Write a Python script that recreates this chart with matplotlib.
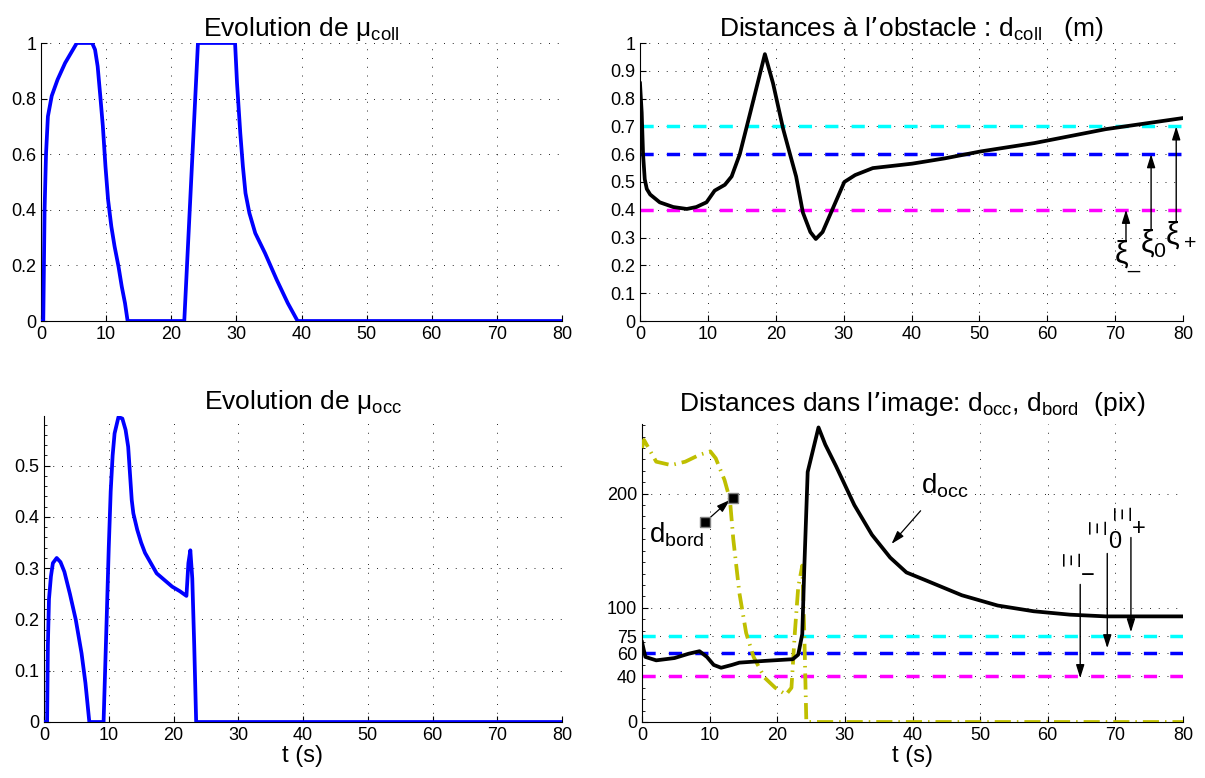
import numpy as np
import matplotlib
matplotlib.use("Agg")
import matplotlib.pyplot as plt
from matplotlib.ticker import MultipleLocator

plt.rcParams['font.family'] = ['Liberation Sans', 'DejaVu Sans']
plt.rcParams['mathtext.default'] = 'regular'

# ---------------- data ----------------
t_mucoll = [0, 0.35, 0.55, 0.77, 1.06, 1.65, 2.54, 3.7, 4.6, 5.5, 7.85, 8.3, 8.7, 9.1, 9.5, 9.9, 10.3, 10.8, 11.3, 11.9, 12.4, 12.9, 13.3,
            22.0, 24.1, 29.8, 30.1, 30.6, 31.0, 31.4, 32.0, 32.9, 34.4, 36.2, 37.9, 39.4, 80]
mu_coll = [0, 0, 0.4, 0.6, 0.736, 0.81, 0.868, 0.928, 0.964, 1.0, 1.0, 0.976, 0.916, 0.81, 0.70, 0.556, 0.436, 0.34, 0.268, 0.196, 0.124, 0.064, 0.0,
           0.0, 1.0, 1.0, 0.856, 0.676, 0.556, 0.46, 0.388, 0.316, 0.244, 0.148, 0.064, 0.0, 0.0]

t_muocc = [0, 0.48, 0.6, 0.77, 1.07, 1.37, 1.96, 2.55, 3.15, 4.0, 4.9, 5.8, 6.4, 7.0, 9.2, 9.7, 10.0, 10.3, 10.6, 10.9, 11.5, 12.1, 12.6, 13.0, 13.55, 13.8, 14.4, 15.0, 15.6, 16.5, 17.4, 18.6, 19.8, 21.0, 22.0, 22.3, 22.6, 22.9, 23.2, 23.5, 80]
mu_occ = [0, 0, 0.15, 0.24, 0.284, 0.31, 0.32, 0.312, 0.293, 0.25, 0.2, 0.134, 0.076, 0, 0, 0.21, 0.34, 0.45, 0.52, 0.563, 0.595, 0.592, 0.57, 0.537, 0.433, 0.407, 0.375, 0.35, 0.33, 0.31, 0.29, 0.277, 0.264, 0.255, 0.246, 0.31, 0.335, 0.28, 0.15, 0, 0]

t_dcoll = [0, 0.25, 0.45, 0.7, 1.0, 1.5, 2.9, 4.9, 6.9, 8.3, 9.8, 11.0, 12.5, 13.5, 14.7, 16.2, 18.4, 19.6, 21.1, 22.1, 23.0, 24.0, 25.1, 25.9, 26.9, 28.5, 30.1, 31.7, 34.3, 40.1, 44.9, 50.2, 58.1, 68.6, 80]
d_coll = [0.855, 0.75, 0.6, 0.51, 0.475, 0.455, 0.427, 0.41, 0.403, 0.41, 0.427, 0.469, 0.49, 0.52, 0.60, 0.745, 0.96, 0.855, 0.69, 0.60, 0.52, 0.39, 0.32, 0.295, 0.32, 0.41, 0.50, 0.525, 0.55, 0.566, 0.585, 0.61, 0.64, 0.69, 0.73]

t_docc = [0, 0.5, 2.1, 4.8, 6.9, 8.5, 9.6, 10.6, 11.7, 13.3, 14.4, 18.1, 22.3, 23.1, 23.7, 24.0, 24.5, 26.1, 27.1, 28.7, 31.4, 34.0, 36.7, 39.1, 42.0, 47.3, 52.6, 57.9, 63.3, 68.6, 80]
d_occ = [70, 57, 54, 56, 59.8, 62, 57, 50, 47.5, 50, 52, 53.5, 55, 59, 77, 135, 219, 258, 243, 224, 190, 164, 144, 131, 124, 111, 102, 97, 94, 92.5, 92.5]

t_dbord = [0, 0.3, 2.1, 4.3, 6.4, 8.5, 10.1, 10.9, 12.2, 13.0, 13.5, 14.4, 15.4, 16.5, 18.1, 19.7, 21.3, 22.1, 22.6, 23.1, 23.7, 24.0, 24.3, 80]
d_bord = [240, 247, 228, 225, 228, 234, 237, 231, 212, 195, 160, 113, 78, 57, 39, 30, 24, 30, 78, 118, 137, 78, 0, 0]

xi_levels = [0.4, 0.6, 0.7]          # xi_-, xi_0, xi_+
Xi_levels = [40, 60, 75]             # Xi_-, Xi_0, Xi_+
thr_colors = ['#ff00ff', '#0000ff', '#00ffff']

# ---------------- figure ----------------
W, H = 1205, 778
fig = plt.figure(figsize=(W / 100, H / 100), dpi=100)

def axpix(l, t, r, b):
    return fig.add_axes([l / W, 1 - b / H, (r - l) / W, (b - t) / H])

ax1 = axpix(41, 43, 562, 321)
ax2 = axpix(640, 43, 1183, 321)
ax3 = axpix(44, 416, 562, 722)
ax4 = axpix(642, 424, 1183, 722)

TFS = 19
LFS = 13
LW = 2.7
DLW = 2.5

for ax in (ax1, ax2, ax3, ax4):
    ax.set_xlim(0, 80)
    ax.set_xticks(range(0, 81, 10))
    ax.spines['top'].set_visible(False)
    ax.spines['right'].set_visible(False)
    ax.tick_params(direction='in', length=4, labelsize=LFS, width=0.8)
    ax.tick_params(which='minor', direction='in', length=2, width=0.6)
    ax.grid(True, which='major', linestyle=(0, (1, 8)), color='k', linewidth=0.7, alpha=0.85)
    ax.set_axisbelow(True)

def dashed(ax, y, c):
    ax.axhline(y, color=c, linewidth=DLW, dashes=(3.8, 3.8), zorder=2)

# top-left
ax1.plot(t_mucoll, mu_coll, color='#0000ff', linewidth=LW, zorder=3)
ax1.set_ylim(0, 1)
ax1.set_yticks([0, 0.2, 0.4, 0.6, 0.8, 1])
ax1.set_yticklabels(['0', '0.2', '0.4', '0.6', '0.8', '1'])
ax1.set_title('Evolution de $μ_{coll}$', fontsize=TFS, pad=5)

# bottom-left
ax3.plot(t_muocc, mu_occ, color='#0000ff', linewidth=LW, zorder=3)
ax3.set_ylim(0, 0.597)
ax3.set_yticks([0, 0.1, 0.2, 0.3, 0.4, 0.5])
ax3.set_yticklabels(['0', '0.1', '0.2', '0.3', '0.4', '0.5'])
ax3.yaxis.set_minor_locator(MultipleLocator(0.02))
ax3.set_title('Evolution de $μ_{occ}$', fontsize=TFS, pad=5)
ax3.set_xlabel('t (s)', fontsize=17, labelpad=1)

# top-right
for y, c in zip(xi_levels, thr_colors):
    dashed(ax2, y, c)
ax2.plot(t_dcoll, d_coll, color='k', linewidth=LW, zorder=3)
ax2.set_ylim(0, 1)
ax2.set_yticks(np.round(np.arange(0, 1.01, 0.1), 1))
ax2.set_yticklabels(['0'] + ['%.1f' % v for v in np.arange(0.1, 0.95, 0.1)] + ['1'])
ax2.set_title('Distances à l’obstacle : $d_{coll}$   (m)', fontsize=TFS, pad=5)

akw = dict(arrowstyle='-|>,head_length=0.8,head_width=0.25', color='k', lw=1.0,
           shrinkA=0, shrinkB=0)
xi_x = [71.6, 75.3, 79.0]
xi_tail = [0.285, 0.327, 0.357]
xi_lbl = ['$ξ_{\\_}$', '$ξ_0$', '$ξ_+$']
xi_tx = [69.9, 73.6, 77.3]
for x, y0, y1, lbl, tx in zip(xi_x, xi_tail, xi_levels, xi_lbl, xi_tx):
    ax2.annotate('', xy=(x, y1), xytext=(x, y0), arrowprops=akw, zorder=4)
    ax2.text(tx, y0 + 0.01, lbl, fontsize=22, ha='left', va='top')

# bottom-right
for y, c in zip(Xi_levels, thr_colors):
    dashed(ax4, y, c)
ax4.plot(t_dbord, d_bord, color='#bfbf00', linewidth=LW, dashes=(4.3, 1.6, 0.4, 1.6), zorder=3)
ax4.plot(t_docc, d_occ, color='k', linewidth=LW, zorder=3)
ax4.set_ylim(0, 261)
ax4.set_yticks([0, 40, 60, 75, 100, 200])
ax4.yaxis.set_minor_locator(MultipleLocator(10))
ax4.set_title('Distances dans l’image: $d_{occ}$, $d_{bord}$  (pix)', fontsize=TFS, pad=9)
ax4.set_xlabel('t (s)', fontsize=17, labelpad=1)

Xi_x = [64.8, 68.8, 72.3]
Xi_tail = [120.5, 147.6, 161.6]
Xi_tip = [38.4, 64.6, 78.6]
Xi_pos = [(63.9, 143), (67.7, 171), (71.4, 184)]
Xi_sub = ['−', '0', '+']
Xi_subpos = [(65.95, 128), (69.9, 158), (73.5, 169)]
for x, y0, y1, p, s, sp in zip(Xi_x, Xi_tail, Xi_tip, Xi_pos, Xi_sub, Xi_subpos):
    ax4.annotate('', xy=(x, y1), xytext=(x, y0), arrowprops=akw, zorder=4)
    ax4.text(p[0], p[1], 'Ξ', fontsize=17, rotation=90, ha='center', va='center')
    ax4.text(sp[0], sp[1], s, fontsize=17, ha='center', va='center')

# d_occ label and arrow
ax4.text(41.3, 207, '$d_{occ}$', fontsize=20, ha='left', va='center')
ax4.annotate('', xy=(36.9, 156), xytext=(41.2, 185),
             arrowprops=dict(arrowstyle='-|>,head_length=0.8,head_width=0.25', color='k', lw=0.9,
                             shrinkA=0, shrinkB=0))
# d_bord label and arrow with square ends
ax4.text(1.0, 157, '$d_{bord}$', fontsize=20, ha='left', va='baseline')
ax4.annotate('', xy=(13.0, 194.5), xytext=(9.3, 175),
             arrowprops=dict(arrowstyle='-|>,head_length=0.8,head_width=0.25', color='k', lw=0.9,
                             shrinkA=0, shrinkB=0))
ax4.plot([9.3, 13.4], [175, 196], linestyle='none', marker='s', markersize=6.5,
         color='k', markeredgecolor='0.5', zorder=5)

fig.savefig('out.png', dpi=100)
